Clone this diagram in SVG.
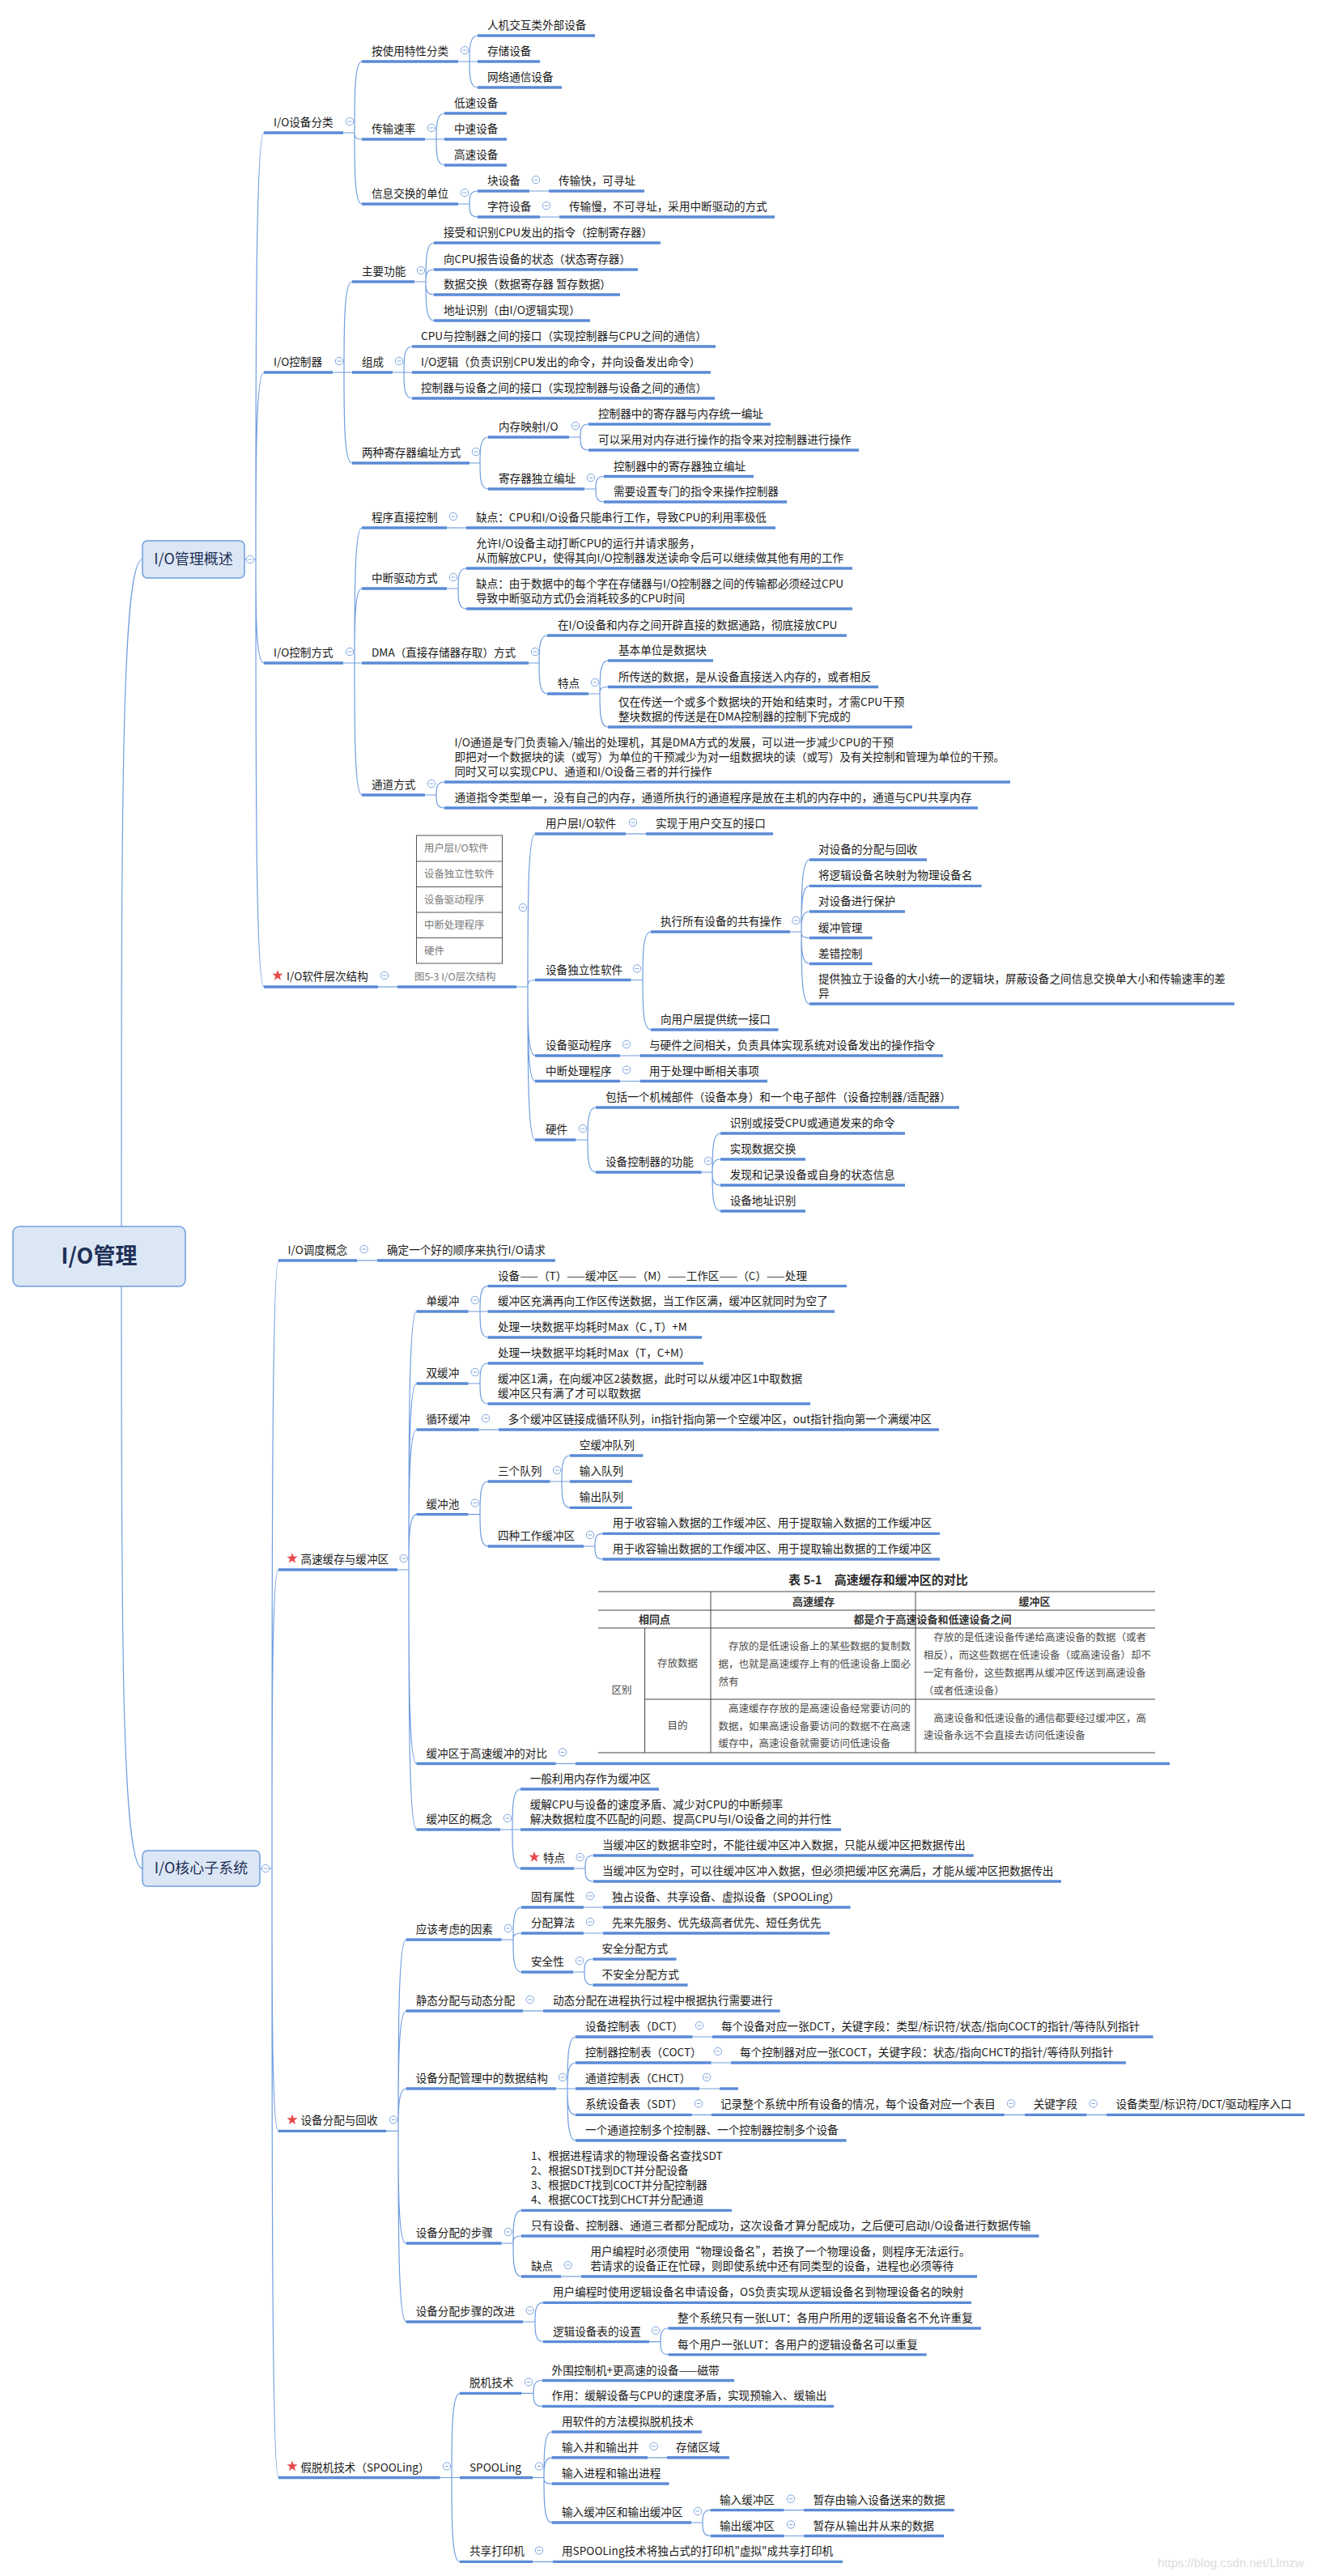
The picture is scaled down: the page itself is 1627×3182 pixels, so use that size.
<svg xmlns="http://www.w3.org/2000/svg" xmlns:xlink="http://www.w3.org/1999/xlink" width="1627" height="3182" viewBox="0 0 1627 3182">
<style>
.t{font-family:"Noto Sans CJK SC","Microsoft YaHei",sans-serif;font-size:13.6px;fill:#1a1a1a}
.ul{stroke:#5b8bd6;stroke-width:3.4}
.cn{fill:none;stroke:#6f9de0;stroke-width:1.2}
.box{fill:#dce7f6;stroke:#6f9de0;stroke-width:1.5}
.bt{font-family:"Noto Sans CJK SC",sans-serif;fill:#1e2f55;text-anchor:middle}
.fg{font-family:"Noto Sans CJK SC",sans-serif;font-size:12.4px;fill:#7a7a7a}
.tb{font-family:"Noto Sans CJK SC",sans-serif;font-size:12.5px;fill:#4a4a4a}
.tbb{font-family:"Noto Sans CJK SC",sans-serif;font-size:13px;fill:#333;font-weight:bold}
.tl{stroke:#444;stroke-width:1}
</style>
<defs>
<g id="col"><circle r="4.7" fill="#fff" stroke="#7ea6dd" stroke-width="1"/><line x1="-2.4" x2="2.4" y1="0" y2="0" stroke="#7ea6dd" stroke-width="1"/></g>
<polygon id="star" fill="#e8494b" points="0,-7 1.646,-2.265 6.657,-2.163 2.663,0.865 4.114,5.663 0,2.8 -4.114,5.663 -2.663,0.865 -6.657,-2.163 -1.646,-2.265"/>
</defs>
<rect width="1627" height="3182" fill="#fff"/>

<g id="connectors">
<path class="cn" d="M150,1515C150,1000 150,691 176,691"/>
<path class="cn" d="M150,1589C150,2000 150,2308 176,2308"/>
<path class="cn" d="M302,691H316M316,691C316,427.5 316,164 326,164M316,691C316,575.5 316,460 326,460M316,691C316,755 316,819 326,819M316,691C316,955 316,1219 326,1219"/>
<path class="cn" d="M424,164H438M438,164C438,120 438,76 447,76M438,164C438,168 438,172 447,172M438,164C438,208 438,252 447,252"/>
<path class="cn" d="M566,76H590M580,76C580,60 580,44 590,44M580,76C580,92 580,108 590,108"/>
<path class="cn" d="M525,172H549M539,172C539,156 539,140 549,140M539,172C539,188 539,204 549,204"/>
<path class="cn" d="M566,252H580M580,252C580,244 580,236 590,236M580,252C580,260 580,268 590,268"/>
<path class="cn" d="M654,236H678M667,268H691"/>
<path class="cn" d="M411,460H435M425,460C425,404 425,348 435,348M425,460C425,516 425,572 435,572"/>
<path class="cn" d="M512,348H526M526,348C526,324 526,300 536,300M526,348C526,340.5 526,333 536,333M526,348C526,356 526,364 536,364M526,348C526,372 526,396 536,396"/>
<path class="cn" d="M485,460H509M499,460C499,444 499,428 509,428M499,460C499,476 499,492 509,492"/>
<path class="cn" d="M580,572H593M593,572C593,556 593,540 603,540M593,572C593,588 593,604 603,604"/>
<path class="cn" d="M703,540H717M717,540C717,532 717,524 727,524M717,540C717,548 717,556 727,556"/>
<path class="cn" d="M722,604H736M736,604C736,596 736,588.5 746,588.5M736,604C736,612 736,620 746,620"/>
<path class="cn" d="M424,819H447M438,819C438,735.5 438,652 447,652M438,819C438,773 438,727 447,727M438,819C438,900.5 438,982 447,982"/>
<path class="cn" d="M552,652H576"/>
<path class="cn" d="M552,727H566M566,727C566,714.5 566,702 576,702M566,727C566,739.5 566,752 576,752"/>
<path class="cn" d="M653,819H666M666,819C666,802 666,785 676,785M666,819C666,838 666,857 676,857"/>
<path class="cn" d="M727,857H741M741,857C741,836.5 741,816 751,816M741,857C741,852.75 741,848.5 751,848.5M741,857C741,877.5 741,898 751,898"/>
<path class="cn" d="M525,982H539M539,982C539,974 539,966 549,966M539,982C539,990 539,998 549,998"/>
<path class="cn" d="M467,1219H491"/>
<path class="cn" d="M638,1219H652M652,1219C652,1124.5 652,1030 661,1030M652,1219C652,1214.75 652,1210.5 661,1210.5M652,1219C652,1261.5 652,1304 661,1304M652,1219C652,1277.25 652,1335.5 661,1335.5M652,1219C652,1313.5 652,1408 661,1408"/>
<path class="cn" d="M773,1030H798"/>
<path class="cn" d="M779.5,1210.5H794M794,1210.5C794,1180.75 794,1151 804,1151M794,1210.5C794,1241.25 794,1272 804,1272"/>
<path class="cn" d="M976,1151H990M990,1151C990,1106.5 990,1062 1000,1062M990,1151C990,1122.7 990,1094.4 1000,1094.4M990,1151C990,1138.5 990,1126 1000,1126M990,1151C990,1154.75 990,1158.5 1000,1158.5M990,1151C990,1170.75 990,1190.5 1000,1190.5M990,1151C990,1195.5 990,1240 1000,1240"/>
<path class="cn" d="M766,1304H790.6M766,1335.5H790.6"/>
<path class="cn" d="M711.5,1408H726M726,1408C726,1388 726,1368 736,1368M726,1408C726,1428 726,1448 736,1448"/>
<path class="cn" d="M866.7,1448H880M880,1448C880,1424 880,1400 890,1400M880,1448C880,1440 880,1432 890,1432M880,1448C880,1456 880,1464 890,1464M880,1448C880,1472 880,1496 890,1496"/>
<path class="cn" d="M321,2308H336M336,2308C336,1932.5 336,1557 344,1557M336,2308C336,2123.5 336,1939 344,1939M336,2308C336,2470.2 336,2632.4 344,2632.4M336,2308C336,2684.25 336,3060.5 344,3060.5"/>
<path class="cn" d="M441,1557H466"/>
<path class="cn" d="M491,1939H505M505,1939C505,1779.5 505,1620 514.5,1620M505,1939C505,1824 505,1709 514.5,1709M505,1939C505,1852.5 505,1766 514.5,1766M505,1939C505,1904.8 505,1870.6 514.5,1870.6M505,1939C505,2058.75 505,2178.5 514.5,2178.5M505,1939C505,2099.5 505,2260 514.5,2260"/>
<path class="cn" d="M578.6,1620H602.6M593,1620C593,1604.3 593,1588.6 602.6,1588.6M593,1620C593,1636 593,1652 602.6,1652"/>
<path class="cn" d="M578.6,1709H593M593,1709C593,1696.5 593,1684 602.6,1684M593,1709C593,1721.5 593,1734 602.6,1734"/>
<path class="cn" d="M591.5,1766H616"/>
<path class="cn" d="M578.6,1870.6H593M593,1870.6C593,1850.3 593,1830 602.6,1830M593,1870.6C593,1890.3 593,1910 602.6,1910"/>
<path class="cn" d="M679.5,1830H704M694,1830C694,1814 694,1798 704,1798M694,1830C694,1846.2 694,1862.4 704,1862.4"/>
<path class="cn" d="M721,1910H735M735,1910C735,1902.2 735,1894.4 744.4,1894.4M735,1910C735,1918 735,1926 744.4,1926"/>
<path class="cn" d="M686.7,2178.5H711"/>
<path class="cn" d="M618,2260H643M633,2260C633,2235 633,2210 643,2210M633,2260C633,2284 633,2308 643,2308"/>
<path class="cn" d="M709,2308H723M723,2308C723,2300 723,2292 733,2292M723,2308C723,2316 723,2324 733,2324"/>
<path class="cn" d="M477,2632.4H492M492,2632.4C492,2514.2 492,2396 501.7,2396M492,2632.4C492,2558.2 492,2484 501.7,2484M492,2632.4C492,2606.2 492,2580 501.7,2580M492,2632.4C492,2701.7 492,2771 501.7,2771M492,2632.4C492,2750.2 492,2868 501.7,2868"/>
<path class="cn" d="M619.6,2396H634M634,2396C634,2376 634,2356 644,2356M634,2396C634,2392 634,2388 644,2388M634,2396C634,2416 634,2436 644,2436"/>
<path class="cn" d="M721,2356H745M721,2388H745"/>
<path class="cn" d="M708,2436H722M722,2436C722,2428 722,2420 732.5,2420M722,2436C722,2444 722,2452 732.5,2452"/>
<path class="cn" d="M646,2484H671"/>
<path class="cn" d="M686.8,2580H711M701,2580C701,2548 701,2516 711,2516M701,2580C701,2564 701,2548 711,2548M701,2580C701,2596.2 701,2612.4 711,2612.4M701,2580C701,2612 701,2644 711,2644"/>
<path class="cn" d="M855.6,2516H880M878.6,2548H903M864,2580H889M854.7,2612.4H879M1240.8,2612.4H1266M1342.5,2612.4H1366.8"/>
<path class="cn" d="M619.7,2771H634M634,2771C634,2750.7 634,2730.4 644,2730.4M634,2771C634,2766.5 634,2762 644,2762M634,2771C634,2791.5 634,2812 644,2812"/>
<path class="cn" d="M693,2812H718"/>
<path class="cn" d="M646,2868H661M661,2868C661,2856.2 661,2844.4 671,2844.4M661,2868C661,2880.3 661,2892.6 671,2892.6"/>
<path class="cn" d="M802,2892.6H816M816,2892.6C816,2884.3 816,2876 825.6,2876M816,2892.6C816,2900.6 816,2908.6 825.6,2908.6"/>
<path class="cn" d="M543.6,3060.5H568M558,3060.5C558,3008.5 558,2956.4 568,2956.4M558,3060.5C558,3112.5 558,3164.4 568,3164.4"/>
<path class="cn" d="M644.4,2956.4H659M659,2956.4C659,2948.5 659,2940.5 669.7,2940.5M659,2956.4C659,2964.4 659,2972.4 669.7,2972.4"/>
<path class="cn" d="M658,3060.5H672M672,3060.5C672,3032.2 672,3004 681.6,3004M672,3060.5C672,3048.2 672,3035.8 681.6,3035.8M672,3060.5C672,3064.2 672,3068 681.6,3068M672,3060.5C672,3088.2 672,3116 681.6,3116"/>
<path class="cn" d="M800,3035.8H824"/>
<path class="cn" d="M854,3116H868M868,3116C868,3108.3 868,3100.6 877.8,3100.6M868,3116C868,3124.2 868,3132.5 877.8,3132.5"/>
<path class="cn" d="M968.5,3100.6H993M968.5,3132.5H993M658,3164.4H683"/>
</g>

<g id="root"><rect class="box" x="16" y="1515" width="213" height="74" rx="8"/><text class="bt" x="122.5" y="1561" font-size="27" font-weight="600">I/O管理</text></g>
<g id="b1"><rect class="box" x="176" y="668" width="126" height="46" rx="6"/><text class="bt" x="239" y="697" font-size="18">I/O管理概述</text><use href="#col" x="309" y="691"/></g>
<g id="b2"><rect class="box" x="176" y="2286" width="145" height="44" rx="6"/><text class="bt" x="248.5" y="2314" font-size="18">I/O核心子系统</text><use href="#col" x="328" y="2308"/></g>

<g id="n1"><text class="t" x="338" y="156">I/O设备分类</text><line class="ul" x1="326" y1="164" x2="424" y2="164"/><use href="#col" x="432" y="150"/></g>
<g id="n1a"><text class="t" x="459" y="68">按使用特性分类</text><line class="ul" x1="447" y1="76" x2="566" y2="76"/><use href="#col" x="574" y="62"/></g>
<g id="n1a1"><text class="t" x="602" y="36">人机交互类外部设备</text><line class="ul" x1="590" y1="44" x2="735" y2="44"/></g>
<g id="n1a2"><text class="t" x="602" y="68">存储设备</text><line class="ul" x1="590" y1="76" x2="667" y2="76"/></g>
<g id="n1a3"><text class="t" x="602" y="100">网络通信设备</text><line class="ul" x1="590" y1="108" x2="694" y2="108"/></g>
<g id="n1b"><text class="t" x="459" y="164">传输速率</text><line class="ul" x1="447" y1="172" x2="525" y2="172"/><use href="#col" x="533" y="158"/></g>
<g id="n1b1"><text class="t" x="561" y="132">低速设备</text><line class="ul" x1="549" y1="140" x2="626" y2="140"/></g>
<g id="n1b2"><text class="t" x="561" y="164">中速设备</text><line class="ul" x1="549" y1="172" x2="626" y2="172"/></g>
<g id="n1b3"><text class="t" x="561" y="196">高速设备</text><line class="ul" x1="549" y1="204" x2="626" y2="204"/></g>
<g id="n1c"><text class="t" x="459" y="244">信息交换的单位</text><line class="ul" x1="447" y1="252" x2="566" y2="252"/><use href="#col" x="574" y="238"/></g>
<g id="n1c1"><text class="t" x="602" y="228">块设备</text><line class="ul" x1="590" y1="236" x2="654" y2="236"/><use href="#col" x="662" y="222"/></g>
<g id="n1c1a"><text class="t" x="690" y="228">传输快，可寻址</text><line class="ul" x1="678" y1="236" x2="796" y2="236"/></g>
<g id="n1c2"><text class="t" x="602" y="260">字符设备</text><line class="ul" x1="590" y1="268" x2="667" y2="268"/><use href="#col" x="675" y="254"/></g>
<g id="n1c2a"><text class="t" x="703" y="260">传输慢，不可寻址，采用中断驱动的方式</text><line class="ul" x1="691" y1="268" x2="957" y2="268"/></g>

<g id="n2"><text class="t" x="338" y="452">I/O控制器</text><line class="ul" x1="326" y1="460" x2="411" y2="460"/><use href="#col" x="419" y="446"/></g>
<g id="n2a"><text class="t" x="447" y="340">主要功能</text><line class="ul" x1="435" y1="348" x2="512" y2="348"/><use href="#col" x="520" y="334"/></g>
<g id="n2a1"><text class="t" x="548" y="292">接受和识别CPU发出的指令（控制寄存器）</text><line class="ul" x1="536" y1="300" x2="816" y2="300"/></g>
<g id="n2a2"><text class="t" x="548" y="325">向CPU报告设备的状态（状态寄存器）</text><line class="ul" x1="536" y1="333" x2="788" y2="333"/></g>
<g id="n2a3"><text class="t" x="548" y="356">数据交换（数据寄存器 暂存数据）</text><line class="ul" x1="536" y1="364" x2="766" y2="364"/></g>
<g id="n2a4"><text class="t" x="548" y="388">地址识别（由I/O逻辑实现）</text><line class="ul" x1="536" y1="396" x2="729" y2="396"/></g>
<g id="n2b"><text class="t" x="447" y="452">组成</text><line class="ul" x1="435" y1="460" x2="485" y2="460"/><use href="#col" x="493" y="446"/></g>
<g id="n2b1"><text class="t" x="520" y="420">CPU与控制器之间的接口（实现控制器与CPU之间的通信）</text><line class="ul" x1="509" y1="428" x2="884" y2="428"/></g>
<g id="n2b2"><text class="t" x="520" y="452">I/O逻辑（负责识别CPU发出的命令，并向设备发出命令）</text><line class="ul" x1="509" y1="460" x2="878" y2="460"/></g>
<g id="n2b3"><text class="t" x="520" y="484">控制器与设备之间的接口（实现控制器与设备之间的通信）</text><line class="ul" x1="509" y1="492" x2="883" y2="492"/></g>
<g id="n2c"><text class="t" x="447" y="564">两种寄存器编址方式</text><line class="ul" x1="435" y1="572" x2="580" y2="572"/><use href="#col" x="588" y="558"/></g>
<g id="n2c1"><text class="t" x="616" y="532">内存映射I/O</text><line class="ul" x1="603" y1="540" x2="703" y2="540"/><use href="#col" x="711" y="526"/></g>
<g id="n2c1a"><text class="t" x="739" y="516">控制器中的寄存器与内存统一编址</text><line class="ul" x1="727" y1="524" x2="952" y2="524"/></g>
<g id="n2c1b"><text class="t" x="739" y="548">可以采用对内存进行操作的指令来对控制器进行操作</text><line class="ul" x1="727" y1="556" x2="1061" y2="556"/></g>
<g id="n2c2"><text class="t" x="616" y="596">寄存器独立编址</text><line class="ul" x1="603" y1="604" x2="722" y2="604"/><use href="#col" x="730" y="590"/></g>
<g id="n2c2a"><text class="t" x="758" y="580.5">控制器中的寄存器独立编址</text><line class="ul" x1="746" y1="588.5" x2="931" y2="588.5"/></g>
<g id="n2c2b"><text class="t" x="758" y="612">需要设置专门的指令来操作控制器</text><line class="ul" x1="746" y1="620" x2="972" y2="620"/></g>

<g id="n3"><text class="t" x="338" y="811">I/O控制方式</text><line class="ul" x1="326" y1="819" x2="424" y2="819"/><use href="#col" x="432" y="805"/></g>
<g id="n3a"><text class="t" x="459" y="644">程序直接控制</text><line class="ul" x1="447" y1="652" x2="552" y2="652"/><use href="#col" x="560" y="638"/></g>
<g id="n3a1"><text class="t" x="588" y="644">缺点：CPU和I/O设备只能串行工作，导致CPU的利用率极低</text><line class="ul" x1="576" y1="652" x2="958" y2="652"/></g>
<g id="n3b"><text class="t" x="459" y="719">中断驱动方式</text><line class="ul" x1="447" y1="727" x2="552" y2="727"/><use href="#col" x="560" y="713"/></g>
<g id="n3b1"><text class="t" x="588" y="676">允许I/O设备主动打断CPU的运行并请求服务，</text><text class="t" x="588" y="694">从而解放CPU，使得其向I/O控制器发送读命令后可以继续做其他有用的工作</text><line class="ul" x1="576" y1="702" x2="1053" y2="702"/></g>
<g id="n3b2"><text class="t" x="588" y="726">缺点：由于数据中的每个字在存储器与I/O控制器之间的传输都必须经过CPU</text><text class="t" x="588" y="744">导致中断驱动方式仍会消耗较多的CPU时间</text><line class="ul" x1="576" y1="752" x2="1053" y2="752"/></g>
<g id="n3c"><text class="t" x="459" y="811">DMA（直接存储器存取）方式</text><line class="ul" x1="447" y1="819" x2="653" y2="819"/><use href="#col" x="661" y="805"/></g>
<g id="n3c1"><text class="t" x="689" y="777">在I/O设备和内存之间开辟直接的数据通路，彻底接放CPU</text><line class="ul" x1="676" y1="785" x2="1046" y2="785"/></g>
<g id="n3c2"><text class="t" x="689" y="849">特点</text><line class="ul" x1="676" y1="857" x2="727" y2="857"/><use href="#col" x="735" y="843"/></g>
<g id="n3c2a"><text class="t" x="764" y="808">基本单位是数据块</text><line class="ul" x1="751" y1="816" x2="881" y2="816"/></g>
<g id="n3c2b"><text class="t" x="764" y="840.5">所传送的数据，是从设备直接送入内存的，或者相反</text><line class="ul" x1="751" y1="848.5" x2="1085" y2="848.5"/></g>
<g id="n3c2c"><text class="t" x="764" y="872">仅在传送一个或多个数据块的开始和结束时，才需CPU干预</text><text class="t" x="764" y="890">整块数据的传送是在DMA控制器的控制下完成的</text><line class="ul" x1="751" y1="898" x2="1127" y2="898"/></g>
<g id="n3d"><text class="t" x="459" y="974">通道方式</text><line class="ul" x1="447" y1="982" x2="525" y2="982"/><use href="#col" x="533" y="968"/></g>
<g id="n3d1"><text class="t" x="561.5" y="922">I/O通道是专门负责输入/输出的处理机，其是DMA方式的发展，可以进一步减少CPU的干预</text><text class="t" x="561.5" y="940">即把对一个数据块的读（或写）为单位的干预减少为对一组数据块的读（或写）及有关控制和管理为单位的干预。</text><text class="t" x="561.5" y="958">同时又可以实现CPU、通道和I/O设备三者的并行操作</text><line class="ul" x1="549" y1="966" x2="1248" y2="966"/></g>
<g id="n3d2"><text class="t" x="561.5" y="990">通道指令类型单一，没有自己的内存，通道所执行的通道程序是放在主机的内存中的，通道与CPU共享内存</text><line class="ul" x1="549" y1="998" x2="1208" y2="998"/></g>

<g id="n4"><use href="#star" x="343" y="1205"/><text class="t" x="354" y="1211">I/O软件层次结构</text><line class="ul" x1="326" y1="1219" x2="467" y2="1219"/><use href="#col" x="475" y="1205"/></g>
<g id="n4f">
<rect x="514.5" y="1032" width="106" height="158" fill="#fff" stroke="#555" stroke-width="1"/>
<line x1="514.5" y1="1064" x2="620.5" y2="1064" stroke="#555"/><line x1="514.5" y1="1095.5" x2="620.5" y2="1095.5" stroke="#555"/><line x1="514.5" y1="1127" x2="620.5" y2="1127" stroke="#555"/><line x1="514.5" y1="1158.5" x2="620.5" y2="1158.5" stroke="#555"/>
<text class="fg" x="524" y="1052">用户层I/O软件</text><text class="fg" x="524" y="1084">设备独立性软件</text><text class="fg" x="524" y="1115.5">设备驱动程序</text><text class="fg" x="524" y="1147">中断处理程序</text><text class="fg" x="524" y="1178.5">硬件</text>
<text class="fg" x="512" y="1211" font-size="13">图5-3  I/O层次结构</text>
<line class="ul" x1="491" y1="1219" x2="638" y2="1219"/><use href="#col" x="646" y="1121"/></g>
<g id="n4a"><text class="t" x="674" y="1022">用户层I/O软件</text><line class="ul" x1="661" y1="1030" x2="773" y2="1030"/><use href="#col" x="782" y="1016"/></g>
<g id="n4a1"><text class="t" x="810" y="1022">实现于用户交互的接口</text><line class="ul" x1="798" y1="1030" x2="955" y2="1030"/></g>
<g id="n4b"><text class="t" x="674" y="1202.5">设备独立性软件</text><line class="ul" x1="661" y1="1210.5" x2="779.5" y2="1210.5"/><use href="#col" x="787" y="1196.5"/></g>
<g id="n4b1"><text class="t" x="816" y="1143">执行所有设备的共有操作</text><line class="ul" x1="804" y1="1151" x2="976" y2="1151"/><use href="#col" x="983.5" y="1137"/></g>
<g id="n4b1a"><text class="t" x="1011" y="1054">对设备的分配与回收</text><line class="ul" x1="1000" y1="1062" x2="1145" y2="1062"/></g>
<g id="n4b1b"><text class="t" x="1011" y="1086.4">将逻辑设备名映射为物理设备名</text><line class="ul" x1="1000" y1="1094.4" x2="1212.6" y2="1094.4"/></g>
<g id="n4b1c"><text class="t" x="1011" y="1118">对设备进行保护</text><line class="ul" x1="1000" y1="1126" x2="1118" y2="1126"/></g>
<g id="n4b1d"><text class="t" x="1011" y="1150.5">缓冲管理</text><line class="ul" x1="1000" y1="1158.5" x2="1077.5" y2="1158.5"/></g>
<g id="n4b1e"><text class="t" x="1011" y="1182.5">差错控制</text><line class="ul" x1="1000" y1="1190.5" x2="1077.5" y2="1190.5"/></g>
<g id="n4b1f"><text class="t" x="1011" y="1214">提供独立于设备的大小统一的逻辑块，屏蔽设备之间信息交换单大小和传输速率的差</text><text class="t" x="1011" y="1232">异</text><line class="ul" x1="1000" y1="1240" x2="1525" y2="1240"/></g>
<g id="n4b2"><text class="t" x="816" y="1264">向用户层提供统一接口</text><line class="ul" x1="804" y1="1272" x2="961.5" y2="1272"/></g>
<g id="n4c"><text class="t" x="674" y="1296">设备驱动程序</text><line class="ul" x1="661" y1="1304" x2="766" y2="1304"/><use href="#col" x="774" y="1290"/></g>
<g id="n4c1"><text class="t" x="802" y="1296">与硬件之间相关，负责具体实现系统对设备发出的操作指令</text><line class="ul" x1="790.6" y1="1304" x2="1165" y2="1304"/></g>
<g id="n4d"><text class="t" x="674" y="1327.5">中断处理程序</text><line class="ul" x1="661" y1="1335.5" x2="766" y2="1335.5"/><use href="#col" x="774" y="1321.5"/></g>
<g id="n4d1"><text class="t" x="802" y="1327.5">用于处理中断相关事项</text><line class="ul" x1="790.6" y1="1335.5" x2="948" y2="1335.5"/></g>
<g id="n4e"><text class="t" x="674" y="1400">硬件</text><line class="ul" x1="661" y1="1408" x2="711.5" y2="1408"/><use href="#col" x="720" y="1394"/></g>
<g id="n4e1"><text class="t" x="748" y="1360">包括一个机械部件（设备本身）和一个电子部件（设备控制器/适配器）</text><line class="ul" x1="736" y1="1368" x2="1185" y2="1368"/></g>
<g id="n4e2"><text class="t" x="748" y="1440">设备控制器的功能</text><line class="ul" x1="736" y1="1448" x2="866.7" y2="1448"/><use href="#col" x="875" y="1434"/></g>
<g id="n4e2a"><text class="t" x="901.7" y="1392">识别或接受CPU或通道发来的命令</text><line class="ul" x1="890" y1="1400" x2="1118" y2="1400"/></g>
<g id="n4e2b"><text class="t" x="901.7" y="1424">实现数据交换</text><line class="ul" x1="890" y1="1432" x2="995" y2="1432"/></g>
<g id="n4e2c"><text class="t" x="901.7" y="1456">发现和记录设备或自身的状态信息</text><line class="ul" x1="890" y1="1464" x2="1118" y2="1464"/></g>
<g id="n4e2d"><text class="t" x="901.7" y="1488">设备地址识别</text><line class="ul" x1="890" y1="1496" x2="995" y2="1496"/></g>

<g id="m1"><text class="t" x="355.5" y="1549">I/O调度概念</text><line class="ul" x1="344" y1="1557" x2="441" y2="1557"/><use href="#col" x="449.6" y="1543"/></g>
<g id="m1a"><text class="t" x="478" y="1549">确定一个好的顺序来执行I/O请求</text><line class="ul" x1="466" y1="1557" x2="686" y2="1557"/></g>
<g id="m2"><use href="#star" x="361" y="1925"/><text class="t" x="371.4" y="1931">高速缓存与缓冲区</text><line class="ul" x1="344" y1="1939" x2="491" y2="1939"/><use href="#col" x="498.7" y="1925"/></g>
<g id="m2a"><text class="t" x="526.5" y="1612">单缓冲</text><line class="ul" x1="514.5" y1="1620" x2="578.6" y2="1620"/><use href="#col" x="586.8" y="1606"/></g>
<g id="m2a1"><text class="t" x="615" y="1580.6">设备——（T）——缓冲区——（M）——工作区——（C）——处理</text><line class="ul" x1="602.6" y1="1588.6" x2="1046" y2="1588.6"/></g>
<g id="m2a2"><text class="t" x="615" y="1612">缓冲区充满再向工作区传送数据，当工作区满，缓冲区就同时为空了</text><line class="ul" x1="602.6" y1="1620" x2="1031" y2="1620"/></g>
<g id="m2a3"><text class="t" x="615" y="1644">处理一块数据平均耗时Max（C , T）+M</text><line class="ul" x1="602.6" y1="1652" x2="867" y2="1652"/></g>
<g id="m2b"><text class="t" x="526.5" y="1701">双缓冲</text><line class="ul" x1="514.5" y1="1709" x2="578.6" y2="1709"/><use href="#col" x="586.8" y="1695"/></g>
<g id="m2b1"><text class="t" x="615" y="1676">处理一块数据平均耗时Max（T，C+M）</text><line class="ul" x1="602.6" y1="1684" x2="869" y2="1684"/></g>
<g id="m2b2"><text class="t" x="615" y="1708">缓冲区1满，在向缓冲区2装数据，此时可以从缓冲区1中取数据</text><text class="t" x="615" y="1726">缓冲区只有满了才可以取数据</text><line class="ul" x1="602.6" y1="1734" x2="1001" y2="1734"/></g>
<g id="m2c"><text class="t" x="526.5" y="1758">循环缓冲</text><line class="ul" x1="514.5" y1="1766" x2="591.5" y2="1766"/><use href="#col" x="600" y="1752"/></g>
<g id="m2c1"><text class="t" x="627.8" y="1758">多个缓冲区链接成循环队列，in指针指向第一个空缓冲区，out指针指向第一个满缓冲区</text><line class="ul" x1="616" y1="1766" x2="1160" y2="1766"/></g>
<g id="m2d"><text class="t" x="526.5" y="1862.6">缓冲池</text><line class="ul" x1="514.5" y1="1870.6" x2="578.6" y2="1870.6"/><use href="#col" x="586.8" y="1856.6"/></g>
<g id="m2d1"><text class="t" x="615" y="1822">三个队列</text><line class="ul" x1="602.6" y1="1830" x2="679.5" y2="1830"/><use href="#col" x="688" y="1816"/></g>
<g id="m2d1a"><text class="t" x="715.8" y="1790">空缓冲队列</text><line class="ul" x1="704" y1="1798" x2="794.4" y2="1798"/></g>
<g id="m2d1b"><text class="t" x="715.8" y="1822">输入队列</text><line class="ul" x1="704" y1="1830" x2="780.8" y2="1830"/></g>
<g id="m2d1c"><text class="t" x="715.8" y="1854.4">输出队列</text><line class="ul" x1="704" y1="1862.4" x2="780.8" y2="1862.4"/></g>
<g id="m2d2"><text class="t" x="615" y="1902">四种工作缓冲区</text><line class="ul" x1="602.6" y1="1910" x2="721" y2="1910"/><use href="#col" x="729" y="1896"/></g>
<g id="m2d2a"><text class="t" x="756.8" y="1886.4">用于收容输入数据的工作缓冲区、用于提取输入数据的工作缓冲区</text><line class="ul" x1="744.4" y1="1894.4" x2="1161" y2="1894.4"/></g>
<g id="m2d2b"><text class="t" x="756.8" y="1918">用于收容输出数据的工作缓冲区、用于提取输出数据的工作缓冲区</text><line class="ul" x1="744.4" y1="1926" x2="1161" y2="1926"/></g>
<g id="m2e"><text class="t" x="526.5" y="2170.5">缓冲区于高速缓冲的对比</text><line class="ul" x1="514.5" y1="2178.5" x2="686.7" y2="2178.5"/><use href="#col" x="695" y="2164.5"/></g>
<g id="m2e1">
<text x="974" y="1957" font-family="Noto Sans CJK SC,sans-serif" font-size="15" font-weight="bold" fill="#2a2a2a">表 5-1　高速缓存和缓冲区的对比</text>
<line class="tl" x1="739" y1="1966" x2="1427" y2="1966" stroke-width="2"/>
<line class="tl" x1="739" y1="1989" x2="1427" y2="1989"/>
<line class="tl" x1="739" y1="2011" x2="1427" y2="2011"/>
<line class="tl" x1="796.6" y1="2099" x2="1427" y2="2099"/>
<line class="tl" x1="739" y1="2165" x2="1427" y2="2165" stroke-width="2"/>
<line class="tl" x1="878" y1="1966" x2="878" y2="2165"/>
<line class="tl" x1="1131" y1="1966" x2="1131" y2="2165"/>
<line class="tl" x1="796.6" y1="2011" x2="796.6" y2="2165"/>
<text class="tbb" x="1005" y="1983" text-anchor="middle">高速缓存</text>
<text class="tbb" x="1278" y="1983" text-anchor="middle">缓冲区</text>
<text class="tbb" x="808.5" y="2005" text-anchor="middle">相同点</text>
<text class="tbb" x="1152" y="2005" text-anchor="middle">都是介于高速设备和低速设备之间</text>
<text class="tb" x="768" y="2092" text-anchor="middle">区别</text>
<text class="tb" x="837" y="2059" text-anchor="middle">存放数据</text>
<text class="tb" x="837" y="2136" text-anchor="middle">目的</text>
<text class="tb" x="900" y="2038">存放的是低速设备上的某些数据的复制数</text>
<text class="tb" x="887.6" y="2060">据，也就是高速缓存上有的低速设备上面必</text>
<text class="tb" x="887.6" y="2082">然有</text>
<text class="tb" x="1153.6" y="2027">存放的是低速设备传递给高速设备的数据（或者</text>
<text class="tb" x="1140.8" y="2049">相反），而这些数据在低速设备（或高速设备）却不</text>
<text class="tb" x="1140.8" y="2071">一定有备份，这些数据再从缓冲区传送到高速设备</text>
<text class="tb" x="1140.8" y="2093">（或者低速设备）</text>
<text class="tb" x="900" y="2115">高速缓存存放的是高速设备经常要访问的</text>
<text class="tb" x="887.6" y="2137">数据，如果高速设备要访问的数据不在高速</text>
<text class="tb" x="887.6" y="2158">缓存中，高速设备就需要访问低速设备</text>
<text class="tb" x="1153.6" y="2127">高速设备和低速设备的通信都要经过缓冲区，高</text>
<text class="tb" x="1140.8" y="2148">速设备永远不会直接去访问低速设备</text>
<line class="ul" x1="711" y1="2178.5" x2="1445" y2="2178.5"/></g>
<g id="m2f"><text class="t" x="526.5" y="2252">缓冲区的概念</text><line class="ul" x1="514.5" y1="2260" x2="618" y2="2260"/><use href="#col" x="627" y="2246"/></g>
<g id="m2f1"><text class="t" x="654.7" y="2202">一般利用内存作为缓冲区</text><line class="ul" x1="643" y1="2210" x2="814" y2="2210"/></g>
<g id="m2f2"><text class="t" x="654.7" y="2234">缓解CPU与设备的速度矛盾、减少对CPU的中断频率</text><text class="t" x="654.7" y="2252">解决数据粒度不匹配的问题、提高CPU与I/O设备之间的并行性</text><line class="ul" x1="643" y1="2260" x2="1039" y2="2260"/></g>
<g id="m2f3"><use href="#star" x="660" y="2294"/><text class="t" x="671" y="2300">特点</text><line class="ul" x1="643" y1="2308" x2="709" y2="2308"/><use href="#col" x="716.7" y="2294"/></g>
<g id="m2f3a"><text class="t" x="744" y="2284">当缓冲区的数据非空时，不能往缓冲区冲入数据，只能从缓冲区把数据传出</text><line class="ul" x1="733" y1="2292" x2="1202.7" y2="2292"/></g>
<g id="m2f3b"><text class="t" x="744" y="2316">当缓冲区为空时，可以往缓冲区冲入数据，但必须把缓冲区充满后，才能从缓冲区把数据传出</text><line class="ul" x1="733" y1="2324" x2="1311" y2="2324"/></g>

<g id="m3"><use href="#star" x="361" y="2618.4"/><text class="t" x="371.4" y="2624.4">设备分配与回收</text><line class="ul" x1="344" y1="2632.4" x2="477" y2="2632.4"/><use href="#col" x="486" y="2618.4"/></g>
<g id="m3a"><text class="t" x="513.7" y="2388">应该考虑的因素</text><line class="ul" x1="501.7" y1="2396" x2="619.6" y2="2396"/><use href="#col" x="627.8" y="2382"/></g>
<g id="m3a1"><text class="t" x="656" y="2348">固有属性</text><line class="ul" x1="644" y1="2356" x2="721" y2="2356"/><use href="#col" x="729" y="2342"/></g>
<g id="m3a1a"><text class="t" x="756" y="2348">独占设备、共享设备、虚拟设备（SPOOLing）</text><line class="ul" x1="745" y1="2356" x2="1050.6" y2="2356"/></g>
<g id="m3a2"><text class="t" x="656" y="2380">分配算法</text><line class="ul" x1="644" y1="2388" x2="721" y2="2388"/><use href="#col" x="729" y="2374"/></g>
<g id="m3a2a"><text class="t" x="756" y="2380">先来先服务、优先级高者优先、短任务优先</text><line class="ul" x1="745" y1="2388" x2="1025" y2="2388"/></g>
<g id="m3a3"><text class="t" x="656" y="2428">安全性</text><line class="ul" x1="644" y1="2436" x2="708" y2="2436"/><use href="#col" x="716" y="2422"/></g>
<g id="m3a3a"><text class="t" x="743.6" y="2412">安全分配方式</text><line class="ul" x1="732.5" y1="2420" x2="835.5" y2="2420"/></g>
<g id="m3a3b"><text class="t" x="743.6" y="2444">不安全分配方式</text><line class="ul" x1="732.5" y1="2452" x2="849.6" y2="2452"/></g>
<g id="m3b"><text class="t" x="513.7" y="2476">静态分配与动态分配</text><line class="ul" x1="501.7" y1="2484" x2="646" y2="2484"/><use href="#col" x="654.7" y="2470"/></g>
<g id="m3b1"><text class="t" x="683" y="2476">动态分配在进程执行过程中根据执行需要进行</text><line class="ul" x1="671" y1="2484" x2="963.7" y2="2484"/></g>
<g id="m3c"><text class="t" x="513.7" y="2572">设备分配管理中的数据结构</text><line class="ul" x1="501.7" y1="2580" x2="686.8" y2="2580"/><use href="#col" x="695" y="2566"/></g>
<g id="m3c1"><text class="t" x="723" y="2508">设备控制表（DCT）</text><line class="ul" x1="711" y1="2516" x2="855.6" y2="2516"/><use href="#col" x="864" y="2502"/></g>
<g id="m3c1a"><text class="t" x="891" y="2508">每个设备对应一张DCT，关键字段：类型/标识符/状态/指向COCT的指针/等待队列指针</text><line class="ul" x1="880" y1="2516" x2="1424.5" y2="2516"/></g>
<g id="m3c2"><text class="t" x="723" y="2540">控制器控制表（COCT）</text><line class="ul" x1="711" y1="2548" x2="878.6" y2="2548"/><use href="#col" x="886.8" y="2534"/></g>
<g id="m3c2a"><text class="t" x="914" y="2540">每个控制器对应一张COCT，关键字段：状态/指向CHCT的指针/等待队列指针</text><line class="ul" x1="903" y1="2548" x2="1390.8" y2="2548"/></g>
<g id="m3c3"><text class="t" x="723" y="2572">通道控制表（CHCT）</text><line class="ul" x1="711" y1="2580" x2="864" y2="2580"/><use href="#col" x="873" y="2566"/></g>
<g id="m3c3a"><line class="ul" x1="889" y1="2580" x2="912" y2="2580"/></g>
<g id="m3c4"><text class="t" x="723" y="2604.4">系统设备表（SDT）</text><line class="ul" x1="711" y1="2612.4" x2="854.7" y2="2612.4"/><use href="#col" x="863" y="2598.4"/></g>
<g id="m3c4a"><text class="t" x="890" y="2604.4">记录整个系统中所有设备的情况，每个设备对应一个表目</text><line class="ul" x1="879" y1="2612.4" x2="1240.8" y2="2612.4"/><use href="#col" x="1249" y="2598.4"/></g>
<g id="m3c4b"><text class="t" x="1276.7" y="2604.4">关键字段</text><line class="ul" x1="1266" y1="2612.4" x2="1342.5" y2="2612.4"/><use href="#col" x="1350.6" y="2598.4"/></g>
<g id="m3c4c"><text class="t" x="1378.4" y="2604.4">设备类型/标识符/DCT/驱动程序入口</text><line class="ul" x1="1366.8" y1="2612.4" x2="1611.7" y2="2612.4"/></g>
<g id="m3c5"><text class="t" x="723" y="2636">一个通道控制多个控制器、一个控制器控制多个设备</text><line class="ul" x1="711" y1="2644" x2="1045.5" y2="2644"/></g>
<g id="m3d"><text class="t" x="513.7" y="2763">设备分配的步骤</text><line class="ul" x1="501.7" y1="2771" x2="619.7" y2="2771"/><use href="#col" x="627.8" y="2757"/></g>
<g id="m3d1"><text class="t" x="656" y="2668.4">1、根据进程请求的物理设备名查找SDT</text><text class="t" x="656" y="2686.4">2、根据SDT找到DCT并分配设备</text><text class="t" x="656" y="2704.4">3、根据DCT找到COCT并分配控制器</text><text class="t" x="656" y="2722.4">4、根据COCT找到CHCT并分配通道</text><line class="ul" x1="644" y1="2730.4" x2="904" y2="2730.4"/></g>
<g id="m3d2"><text class="t" x="656" y="2754">只有设备、控制器、通道三者都分配成功，这次设备才算分配成功，之后便可启动I/O设备进行数据传输</text><line class="ul" x1="644" y1="2762" x2="1283.5" y2="2762"/></g>
<g id="m3d3"><text class="t" x="656" y="2804">缺点</text><line class="ul" x1="644" y1="2812" x2="693" y2="2812"/><use href="#col" x="701.7" y="2798"/></g>
<g id="m3d3a"><text class="t" x="729.5" y="2786">用户编程时必须使用“物理设备名”，若换了一个物理设备，则程序无法运行。</text><text class="t" x="729.5" y="2804">若请求的设备正在忙碌，则即使系统中还有同类型的设备，进程也必须等待</text><line class="ul" x1="718" y1="2812" x2="1207" y2="2812"/></g>
<g id="m3e"><text class="t" x="513.7" y="2860">设备分配步骤的改进</text><line class="ul" x1="501.7" y1="2868" x2="646" y2="2868"/><use href="#col" x="654.7" y="2854"/></g>
<g id="m3e1"><text class="t" x="683" y="2836.4">用户编程时使用逻辑设备名申请设备，OS负责实现从逻辑设备名到物理设备名的映射</text><line class="ul" x1="671" y1="2844.4" x2="1200" y2="2844.4"/></g>
<g id="m3e2"><text class="t" x="683" y="2884.6">逻辑设备表的设置</text><line class="ul" x1="671" y1="2892.6" x2="802" y2="2892.6"/><use href="#col" x="810" y="2878.6"/></g>
<g id="m3e2a"><text class="t" x="837" y="2868">整个系统只有一张LUT：各用户所用的逻辑设备名不允许重复</text><line class="ul" x1="825.6" y1="2876" x2="1212" y2="2876"/></g>
<g id="m3e2b"><text class="t" x="837" y="2900.6">每个用户一张LUT：各用户的逻辑设备名可以重复</text><line class="ul" x1="825.6" y1="2908.6" x2="1144.6" y2="2908.6"/></g>

<g id="m4"><use href="#star" x="361" y="3046.5"/><text class="t" x="371.4" y="3052.5">假脱机技术（SPOOLing）</text><line class="ul" x1="344" y1="3060.5" x2="543.6" y2="3060.5"/><use href="#col" x="552" y="3046.5"/></g>
<g id="m4a"><text class="t" x="580" y="2948.4">脱机技术</text><line class="ul" x1="568" y1="2956.4" x2="644.4" y2="2956.4"/><use href="#col" x="653" y="2942.4"/></g>
<g id="m4a1"><text class="t" x="681.6" y="2932.5">外围控制机+更高速的设备——磁带</text><line class="ul" x1="669.7" y1="2940.5" x2="907" y2="2940.5"/></g>
<g id="m4a2"><text class="t" x="681.6" y="2964.4">作用：缓解设备与CPU的速度矛盾，实现预输入、缓输出</text><line class="ul" x1="669.7" y1="2972.4" x2="1030" y2="2972.4"/></g>
<g id="m4b"><text class="t" x="580" y="3052.5">SPOOLing</text><line class="ul" x1="568" y1="3060.5" x2="658" y2="3060.5"/><use href="#col" x="666" y="3046.5"/></g>
<g id="m4b1"><text class="t" x="694" y="2996">用软件的方法模拟脱机技术</text><line class="ul" x1="681.6" y1="3004" x2="867" y2="3004"/></g>
<g id="m4b2"><text class="t" x="694" y="3027.8">输入井和输出井</text><line class="ul" x1="681.6" y1="3035.8" x2="800" y2="3035.8"/><use href="#col" x="807.7" y="3021.8"/></g>
<g id="m4b2a"><text class="t" x="835" y="3027.8">存储区域</text><line class="ul" x1="824" y1="3035.8" x2="901" y2="3035.8"/></g>
<g id="m4b3"><text class="t" x="694" y="3060">输入进程和输出进程</text><line class="ul" x1="681.6" y1="3068" x2="826.5" y2="3068"/></g>
<g id="m4b4"><text class="t" x="694" y="3108">输入缓冲区和输出缓冲区</text><line class="ul" x1="681.6" y1="3116" x2="854" y2="3116"/><use href="#col" x="862" y="3102"/></g>
<g id="m4b4a"><text class="t" x="889" y="3092.6">输入缓冲区</text><line class="ul" x1="877.8" y1="3100.6" x2="968.5" y2="3100.6"/><use href="#col" x="977" y="3086.6"/></g>
<g id="m4b4a1"><text class="t" x="1004.4" y="3092.6">暂存由输入设备送来的数据</text><line class="ul" x1="993" y1="3100.6" x2="1178.8" y2="3100.6"/></g>
<g id="m4b4b"><text class="t" x="889" y="3124.5">输出缓冲区</text><line class="ul" x1="877.8" y1="3132.5" x2="968.5" y2="3132.5"/><use href="#col" x="977" y="3118.5"/></g>
<g id="m4b4b1"><text class="t" x="1004.4" y="3124.5">暂存从输出井从来的数据</text><line class="ul" x1="993" y1="3132.5" x2="1166" y2="3132.5"/></g>
<g id="m4c"><text class="t" x="580" y="3156.4">共享打印机</text><line class="ul" x1="568" y1="3164.4" x2="658" y2="3164.4"/><use href="#col" x="666" y="3150.4"/></g>
<g id="m4c1"><text class="t" x="694" y="3156.4">用SPOOLing技术将独占式的打印机"虚拟"成共享打印机</text><line class="ul" x1="683" y1="3164.4" x2="1041" y2="3164.4"/></g>

<text x="1430" y="3171" font-family="Liberation Sans,sans-serif" font-size="15" fill="#dcdcdc">https://blog.csdn.net/Llmzw</text>
</svg>
